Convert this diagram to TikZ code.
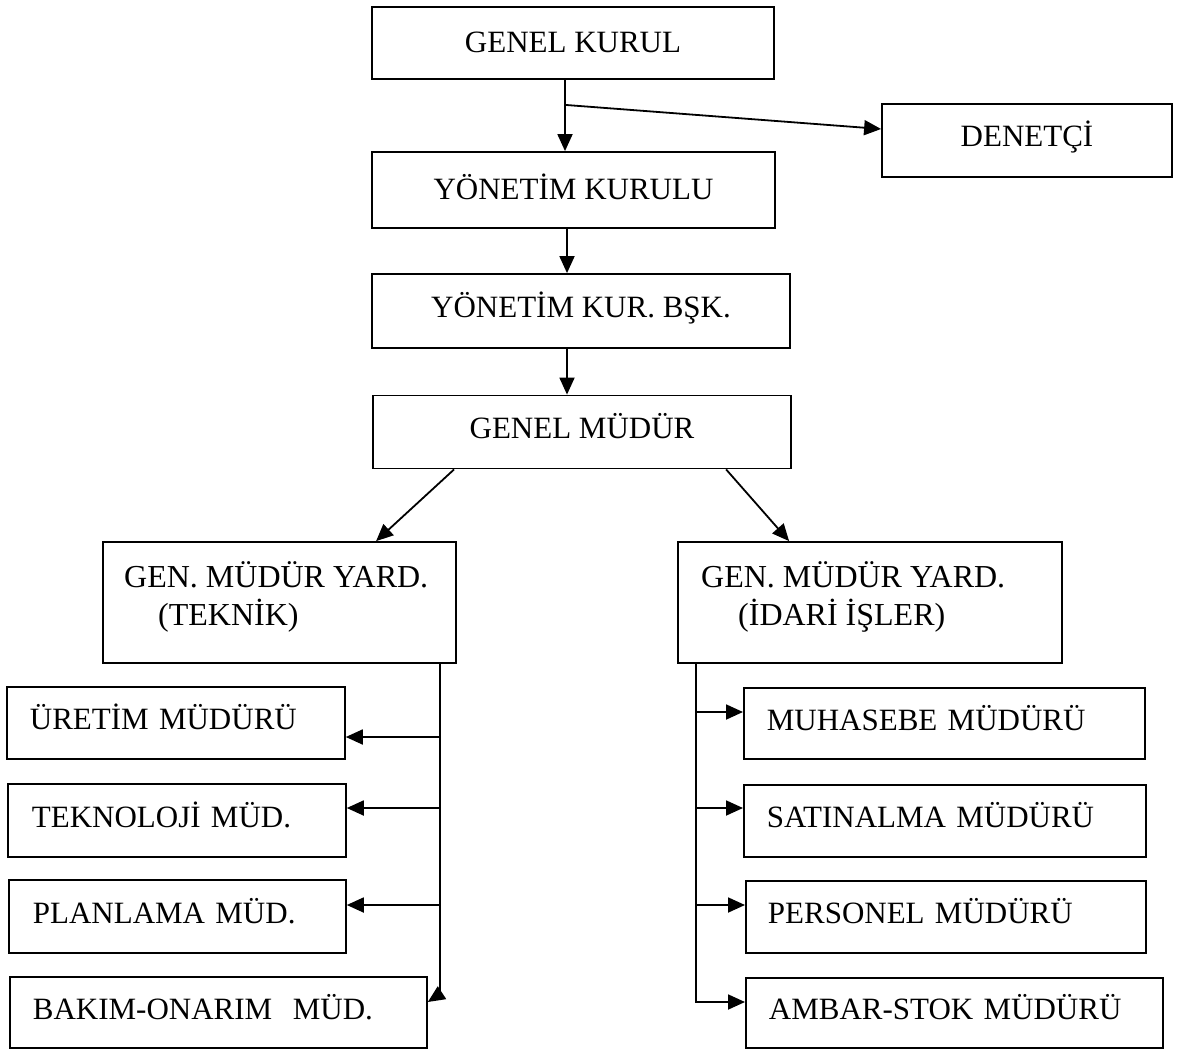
\documentclass[tikz,border=0pt]{standalone}
\usepackage{fontspec}
\setmainfont{Liberation Serif}
\usetikzlibrary{arrows.meta,calc}
\begin{document}
\begin{tikzpicture}[x=1pt,y=-1pt,
  box/.style={draw, line width=1.8pt, inner sep=0pt, font=\fontsize{31}{39}\selectfont, text height=21pt, text depth=8pt},
  lbox/.style={box, anchor=west, align=left},
  txt/.style={inner sep=0pt, font=\fontsize{32}{39}\selectfont, anchor=base west},
  arr/.style={line width=1.8pt, -{Triangle[length=17pt,width=15pt]}},
  ln/.style={line width=1.8pt}]
\useasboundingbox (0,0) rectangle (1182,1051);
\fill[white] (0,0) rectangle (1182,1051);

% top column
\node[box, minimum width=402pt, minimum height=72pt, text depth=1pt] (gk) at (573,43) {GENEL KURUL};
\node[box, minimum width=290pt, minimum height=73pt, text depth=9pt] (den) at (1027,140.5) {DENETÇİ};
\node[box, minimum width=403pt, minimum height=76pt, text depth=3pt] (yk) at (573.5,190) {YÖNETİM KURULU};
\node[box, minimum width=418pt, minimum height=74pt] (ykb) at (581,311) {YÖNETİM KUR. BŞK.};
\node[box, minimum width=418pt, minimum height=73pt] (gm) at (582,432) {GENEL MÜDÜR};

% deputy boxes
\node[box, minimum width=353pt, minimum height=121pt] (gmyt) at (279.5,602.5) {};
\node[txt] (gmyt1) at (124,587) {GEN. MÜDÜR YARD.};
\node[txt] (gmyt2) at (158,625) {(TEKNİK)};
\node[box, minimum width=384pt, minimum height=121pt] (gmyi) at (870,602.5) {};
\node[txt] (gmyi1) at (701,587) {GEN. MÜDÜR YARD.};
\node[txt] (gmyi2) at (738,625) {(İDARİ İŞLER)};

% left boxes
\node[lbox, inner xsep=23pt, text width=292pt, minimum height=72pt] (ur) at (6,723) {\mbox{ÜRETİM MÜDÜRÜ}};
\node[lbox, inner xsep=24pt, text width=290pt, minimum height=73pt] (tk) at (7,820.5) {\mbox{TEKNOLOJİ MÜD.}};
\node[lbox, inner xsep=24pt, text width=289pt, minimum height=73pt] (pl) at (8,916.5) {\mbox{PLANLAMA MÜD.}};
\node[lbox, inner xsep=23pt, text width=371pt, minimum height=71pt] (bo) at (9,1012.5) {\mbox{BAKIM-ONARIM\ \ MÜD.}};

% right boxes
\node[lbox, inner xsep=23pt, text width=355pt, minimum height=71pt] (mu) at (743,723.5) {\mbox{MUHASEBE MÜDÜRÜ}};
\node[lbox, inner xsep=23pt, text width=356pt, minimum height=72pt] (sa) at (743,821) {\mbox{SATINALMA MÜDÜRÜ}};
\node[lbox, inner xsep=22pt, text width=356pt, minimum height=72pt] (pe) at (745,917) {\mbox{PERSONEL MÜDÜRÜ}};
\node[lbox, inner xsep=23pt, text width=371pt, minimum height=70pt] (am) at (745,1013) {\mbox{AMBAR-STOK MÜDÜRÜ}};

% main column connectors
\coordinate (vx) at (565,0);
\coordinate (vx2) at (567,0);
\draw[arr] (gk.south -| vx) -- (yk.north -| vx);
\coordinate (dbr) at ($(gk.south -| vx)+(0,25)$);
\draw[arr] (dbr) -- ([yshift=11.5pt]den.west);
\draw[arr] (yk.south -| vx2) -- (ykb.north -| vx2);
\draw[arr] (ykb.south -| vx2) -- (gm.north -| vx2);
\draw[arr] ($(gm.south west)+(82,0)$) -- ($(gmyt.north west)+(274,0)$);
\draw[arr] ($(gm.south west)+(354,0)$) -- ($(gmyi.north west)+(112,0)$);

% left trunk
\coordinate (lt) at (440,0);
\coordinate (lb) at (440,994);
\coordinate (urp) at ($(ur.east)+(0,14)$);
\coordinate (tkp) at ($(tk.east)+(0,-12.5)$);
\coordinate (plp) at ($(pl.east)+(0,-11.5)$);
\coordinate (bop) at ($(bo.east)+(0,-10.5)$);
\draw[arr] (gmyt.south -| lt) -- (lb) -- (bop);
\draw[arr] (urp -| lt) -- (urp);
\draw[arr] (tkp -| lt) -- (tkp);
\draw[arr] (plp -| lt) -- (plp);

% right trunk
\coordinate (rt) at (696,0);
\coordinate (mup) at ($(mu.west)+(0,-11.5)$);
\coordinate (sap) at ($(sa.west)+(0,-13)$);
\coordinate (pep) at ($(pe.west)+(0,-12)$);
\coordinate (amp) at ($(am.west)+(0,-11)$);
\draw[arr] (gmyi.south -| rt) -- (amp -| rt) -- (amp);
\draw[arr] (mup -| rt) -- (mup);
\draw[arr] (sap -| rt) -- (sap);
\draw[arr] (pep -| rt) -- (pep);
\end{tikzpicture}
\end{document}
